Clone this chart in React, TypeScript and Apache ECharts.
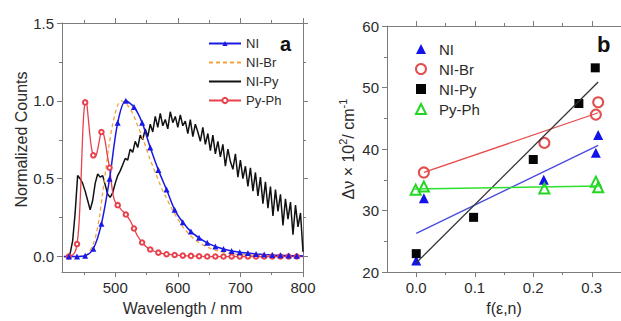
import React, { useEffect, useRef } from "react";
import * as echarts from "echarts";

// ---------- Panel a : emission spectra ----------
const seriesNames = ["NI", "NI-Br", "NI-Py", "Py-Ph"];

// marker wavelengths (nm) for the symbol-bearing curves
const markerWl = [426, 439, 452, 465, 478, 491, 504, 517, 530, 543, 556, 569, 582, 595, 608, 621, 634, 647, 660, 673, 686, 699, 712, 725, 738, 751, 764, 777, 790];

const niSpec: [number, number][] = [
  [418, 0], [426, 0.0], [439, 0.0], [452, 0.005], [465, 0.05], [478, 0.21], [491, 0.5], [504, 0.86], [517, 1.0],
  [530, 0.96], [543, 0.86], [556, 0.7], [569, 0.555], [582, 0.43], [595, 0.3], [608, 0.22], [621, 0.16],
  [634, 0.12], [647, 0.088], [660, 0.065], [673, 0.048], [686, 0.036], [699, 0.028], [712, 0.022],
  [725, 0.017], [738, 0.013], [751, 0.01], [764, 0.008], [777, 0.006], [790, 0.005], [800, 0.004],
];

const niBrSpec: [number, number][] = [
  [418, 0], [440, 0], [450, 0.005], [455, 0.015], [460, 0.04], [465, 0.08], [470, 0.15], [475, 0.26],
  [480, 0.41], [485, 0.56], [490, 0.71], [495, 0.83], [500, 0.92], [505, 0.98], [510, 1.0], [515, 0.99],
  [520, 0.97], [525, 0.94], [530, 0.9], [535, 0.85], [540, 0.8], [545, 0.75], [550, 0.69], [555, 0.63],
  [560, 0.58], [565, 0.53], [570, 0.48], [575, 0.43], [580, 0.39], [590, 0.31], [600, 0.24], [610, 0.18],
  [620, 0.135], [630, 0.1], [640, 0.075], [650, 0.055], [660, 0.04], [670, 0.03], [680, 0.022],
  [690, 0.016], [700, 0.012], [720, 0.008], [740, 0.005], [760, 0.003], [780, 0.002], [800, 0.001],
];

const niPyStart = 424;
const niPyStep = 4;
const niPyValues = [
  0.0, 0.02, 0.1, 0.28, 0.52, 0.5, 0.47, 0.42, 0.36, 0.3, 0.36, 0.47, 0.53, 0.51, 0.52, 0.46, 0.4, 0.38,
  0.41, 0.47, 0.52, 0.55, 0.59, 0.63, 0.62, 0.69, 0.67, 0.74, 0.7, 0.78, 0.75, 0.82, 0.77, 0.85, 0.8,
  0.9, 0.83, 0.92, 0.84, 0.88, 0.82, 0.93, 0.86, 0.9, 0.83, 0.91, 0.84, 0.87, 0.79, 0.88, 0.77, 0.85,
  0.8, 0.74, 0.83, 0.72, 0.79, 0.68, 0.78, 0.66, 0.74, 0.64, 0.72, 0.58, 0.69, 0.61, 0.56, 0.66, 0.51,
  0.62, 0.5, 0.58, 0.45, 0.57, 0.42, 0.54, 0.39, 0.51, 0.34, 0.48, 0.31, 0.45, 0.26, 0.43, 0.29, 0.4,
  0.2, 0.37, 0.24, 0.35, 0.14, 0.33, 0.19, 0.28, 0.03,
];

const pyPhSpec: [number, number][] = [
  [418, 0], [426, 0.0], [432, 0.01], [436, 0.03], [439, 0.08], [442, 0.2], [445, 0.45], [448, 0.78],
  [450, 0.93], [452, 0.99], [454, 0.99], [456, 0.93], [459, 0.8], [462, 0.7], [465, 0.65], [468, 0.64],
  [471, 0.67], [474, 0.73], [478, 0.8], [481, 0.79], [484, 0.74], [487, 0.66], [491, 0.57], [494, 0.47],
  [497, 0.39], [500, 0.35], [504, 0.33], [510, 0.3], [517, 0.27], [524, 0.23], [530, 0.18], [536, 0.13],
  [543, 0.09], [549, 0.065], [556, 0.045], [569, 0.025], [582, 0.015], [595, 0.01], [608, 0.006],
  [621, 0.004], [634, 0.002], [647, 0.0], [660, 0.0], [673, 0.0], [686, 0.0], [699, 0.0], [712, 0.0],
  [725, 0.0], [738, 0.0], [751, 0.0], [764, 0.0], [777, 0.0], [790, 0.0], [800, 0.0],
];

const aXTicks = [500, 600, 700, 800];
const aXMinor = [450, 550, 650, 750];
const aYTicks = [0, 0.5, 1.0, 1.5];
const aYMinor = [0.25, 0.75, 1.25];

// ---------- Panel b : Lippert-Mataga plot ----------
const niPts: [number, number][] = [[0.0, 21.9], [0.013, 32.0], [0.218, 35.0], [0.307, 39.4], [0.311, 42.3]];
const niBrPts: [number, number][] = [[0.013, 36.2], [0.219, 41.0], [0.307, 45.6], [0.311, 47.6]];
const niPyPts: [number, number][] = [[0.0, 23.0], [0.098, 28.9], [0.2, 38.3], [0.278, 47.4], [0.306, 53.2]];
const pyPhPts: [number, number][] = [[-0.001, 33.4], [0.013, 33.9], [0.219, 33.6], [0.307, 34.7], [0.311, 33.8]];

const niFit: [number, number][] = [[0.0, 26.3], [0.311, 40.6]];
const niBrFit: [number, number][] = [[0.013, 36.2], [0.311, 45.9]];
const niPyFit: [number, number][] = [[0.0, 21.5], [0.311, 50.9]];
const pyPhFit: [number, number][] = [[-0.003, 33.5], [0.313, 34.0]];

const bXTicks = [0, 0.1, 0.2, 0.3];
const bXMinor = [0.05, 0.15, 0.25];
const bYTicks = [20, 30, 40, 50, 60];
const bYMinor = [25, 35, 45, 55];

// ---------- styling ----------
const FONT = "Liberation Sans, Arial, sans-serif";
const AX = "#7c7c7c";
const TXT = "#2b2b2b";

function withMarkers(points: [number, number][]) {
  return points.map(([x, y]) =>
    markerWl.includes(x) ? [x, y] : { value: [x, y], symbol: "none" }
  );
}

function axis(
  gridIndex: number,
  min: number,
  max: number,
  position: string,
  ticks: number[],
  len: number,
  showLine: boolean,
  fmt?: (v: number) => string,
  extra?: any
) {
  return {
    type: "value",
    gridIndex,
    min,
    max,
    position,
    silent: true,
    axisLine: { show: showLine, onZero: false, lineStyle: { color: AX, width: 1 } },
    axisTick: { show: true, customValues: ticks, length: len, inside: false, lineStyle: { color: AX, width: 1 } },
    minorTick: { show: false },
    splitLine: { show: false },
    axisLabel: fmt
      ? { show: true, customValues: ticks, formatter: fmt, fontSize: 15, color: TXT, fontFamily: FONT, margin: 8 }
      : { show: false },
    ...(extra || {}),
  };
}

const nameStyle = { fontSize: 16, color: TXT, fontFamily: FONT };
const hiddenSymbol = { opacity: 0, borderWidth: 0 };

const option: any = {
  animation: false,
  backgroundColor: "#ffffff",
  textStyle: { fontFamily: FONT },
  grid: [
    { left: 62, top: 23, width: 241, height: 255 },
    { left: 387, top: 26, width: 240, height: 252 },
  ],
  xAxis: [
    axis(0, 415, 800, "bottom", aXTicks, 5, true, (v) => String(v), {
      name: "Wavelength / nm", nameLocation: "middle", nameGap: 25, nameTextStyle: nameStyle,
    }),
    axis(0, 415, 800, "bottom", aXMinor, 3, false),
    axis(0, 415, 800, "top", aXTicks, 5, true),
    axis(0, 415, 800, "top", aXMinor, 3, false),
    axis(1, -0.05, 0.35, "bottom", bXTicks, 5, true, (v) => v.toFixed(1), {
      name: "f(ε,n)", nameLocation: "middle", nameGap: 25, nameTextStyle: nameStyle,
    }),
    axis(1, -0.05, 0.35, "bottom", bXMinor, 3, false),
    axis(1, -0.05, 0.35, "top", bXTicks, 5, true),
    axis(1, -0.05, 0.35, "top", bXMinor, 3, false),
  ],
  yAxis: [
    axis(0, -0.1, 1.5, "left", aYTicks, 5, true, (v) => v.toFixed(1), {
      name: "Normalized Counts", nameLocation: "middle", nameGap: 28,
      nameTextStyle: { ...nameStyle, padding: [0, 0, 0, 16] },
    }),
    axis(0, -0.1, 1.5, "left", aYMinor, 3, false),
    axis(0, -0.1, 1.5, "right", aYTicks, 5, true),
    axis(0, -0.1, 1.5, "right", aYMinor, 3, false),
    axis(1, 20, 60, "left", bYTicks, 5, true, (v) => String(v), {
      name: "{t|Δν × 10}{s|2}{t|/ cm}{s|-1}", nameLocation: "middle", nameGap: 28,
      nameTextStyle: {
        ...nameStyle,
        rich: {
          t: { fontSize: 16, color: TXT, fontFamily: FONT, lineHeight: 22 },
          s: { fontSize: 11, color: TXT, fontFamily: FONT, verticalAlign: "top", lineHeight: 12 },
        },
      },
    }),
    axis(1, 20, 60, "left", bYMinor, 3, false),
    axis(1, 20, 60, "right", bYTicks, 5, true),
    axis(1, 20, 60, "right", bYMinor, 3, false),
  ],
  legend: [
    {
      data: [
        { name: "NI" },
        { name: "NI-Br", itemStyle: hiddenSymbol },
        { name: "NI-Py", itemStyle: hiddenSymbol },
        { name: "Py-Ph" },
      ],
      orient: "vertical",
      left: 208,
      top: 36,
      padding: 0,
      itemWidth: 32,
      itemHeight: 6.5,
      itemGap: 4,
      selectedMode: false,
      textStyle: { fontSize: 13, color: TXT, fontFamily: FONT, lineHeight: 15 },
    },
    {
      data: seriesNames.map((n) => n + " "),
      orient: "vertical",
      left: 415,
      top: 41,
      padding: 0,
      itemWidth: 10,
      itemHeight: 10,
      itemGap: 4,
      selectedMode: false,
      formatter: (n: string) => n.trim(),
      textStyle: { fontSize: 15, color: TXT, fontFamily: FONT, lineHeight: 16, padding: [0, 0, 0, 8] },
    },
  ],
  graphic: [
    { type: "text", left: 280, top: 34, style: { text: "a", font: "bold 20px Liberation Sans, Arial", fill: "#111" } },
    { type: "text", left: 597, top: 33, style: { text: "b", font: "bold 22px Liberation Sans, Arial", fill: "#111" } },
  ],
  series: [
    {
      name: "NI-Py",
      type: "line",
      xAxisIndex: 0,
      yAxisIndex: 0,
      data: niPyValues.map((v, i) => [niPyStart + niPyStep * i, v]),
      symbol: "none",
      lineStyle: { color: "#111111", width: 1.5 },
      itemStyle: { color: "#111111" },
      silent: true,
    },
    {
      name: "NI-Br",
      type: "line",
      xAxisIndex: 0,
      yAxisIndex: 0,
      data: niBrSpec,
      smooth: 0.3,
      symbol: "none",
      lineStyle: { color: "#f2a43a", width: 1.3, type: [4, 3] },
      itemStyle: { color: "#f2a43a" },
      silent: true,
    },
    {
      name: "Py-Ph",
      type: "line",
      xAxisIndex: 0,
      yAxisIndex: 0,
      data: withMarkers(pyPhSpec),
      smooth: 0.2,
      symbol: "emptyCircle",
      symbolSize: 4.5,
      showAllSymbol: true,
      lineStyle: { color: "#e8414c", width: 1.3 },
      itemStyle: { color: "#e8414c", borderWidth: 1 },
      silent: true,
    },
    {
      name: "NI",
      type: "line",
      xAxisIndex: 0,
      yAxisIndex: 0,
      data: withMarkers(niSpec),
      smooth: 0.3,
      symbol: "triangle",
      symbolSize: 6,
      showAllSymbol: true,
      lineStyle: { color: "#1a1ae6", width: 1.5 },
      itemStyle: { color: "#1a1ae6" },
      silent: true,
    },
    // panel b fits
    { name: "fit NI", type: "line", xAxisIndex: 4, yAxisIndex: 4, data: niFit, symbol: "none", lineStyle: { color: "#4848e0", width: 1.3 }, silent: true },
    { name: "fit NI-Br", type: "line", xAxisIndex: 4, yAxisIndex: 4, data: niBrFit, symbol: "none", lineStyle: { color: "#e44a4a", width: 1.3 }, silent: true },
    { name: "fit NI-Py", type: "line", xAxisIndex: 4, yAxisIndex: 4, data: niPyFit, symbol: "none", lineStyle: { color: "#333333", width: 1.3 }, silent: true },
    { name: "fit Py-Ph", type: "line", xAxisIndex: 4, yAxisIndex: 4, data: pyPhFit, symbol: "none", lineStyle: { color: "#2ee02e", width: 1.5 }, silent: true },
    // panel b points
    { name: "NI ", type: "scatter", xAxisIndex: 4, yAxisIndex: 4, data: niPts, symbol: "triangle", symbolSize: 10, itemStyle: { color: "#1212ea", opacity: 1 }, silent: true },
    { name: "NI-Br ", type: "scatter", xAxisIndex: 4, yAxisIndex: 4, data: niBrPts, symbol: "emptyCircle", symbolSize: 10, itemStyle: { color: "#e24e4e", borderWidth: 1.2, opacity: 1 }, silent: true },
    { name: "NI-Py ", type: "scatter", xAxisIndex: 4, yAxisIndex: 4, data: niPyPts, symbol: "rect", symbolSize: 9, itemStyle: { color: "#050505", opacity: 1 }, silent: true },
    { name: "Py-Ph ", type: "scatter", xAxisIndex: 4, yAxisIndex: 4, data: pyPhPts, symbol: "emptyTriangle", symbolSize: 10, itemStyle: { color: "#22d622", borderWidth: 1.2, opacity: 1 }, silent: true },
  ],
};

export default function App() {
  const ref = useRef<HTMLDivElement>(null);
  useEffect(() => {
    if (!ref.current) return;
    const chart = echarts.init(ref.current, null, { renderer: "svg" });
    chart.setOption(option);
    return () => chart.dispose();
  }, []);
  return (
    <div
      ref={ref}
      style={{ position: "absolute", left: 0, top: 0, width: 621, height: 321, background: "#fff" }}
    />
  );
}
